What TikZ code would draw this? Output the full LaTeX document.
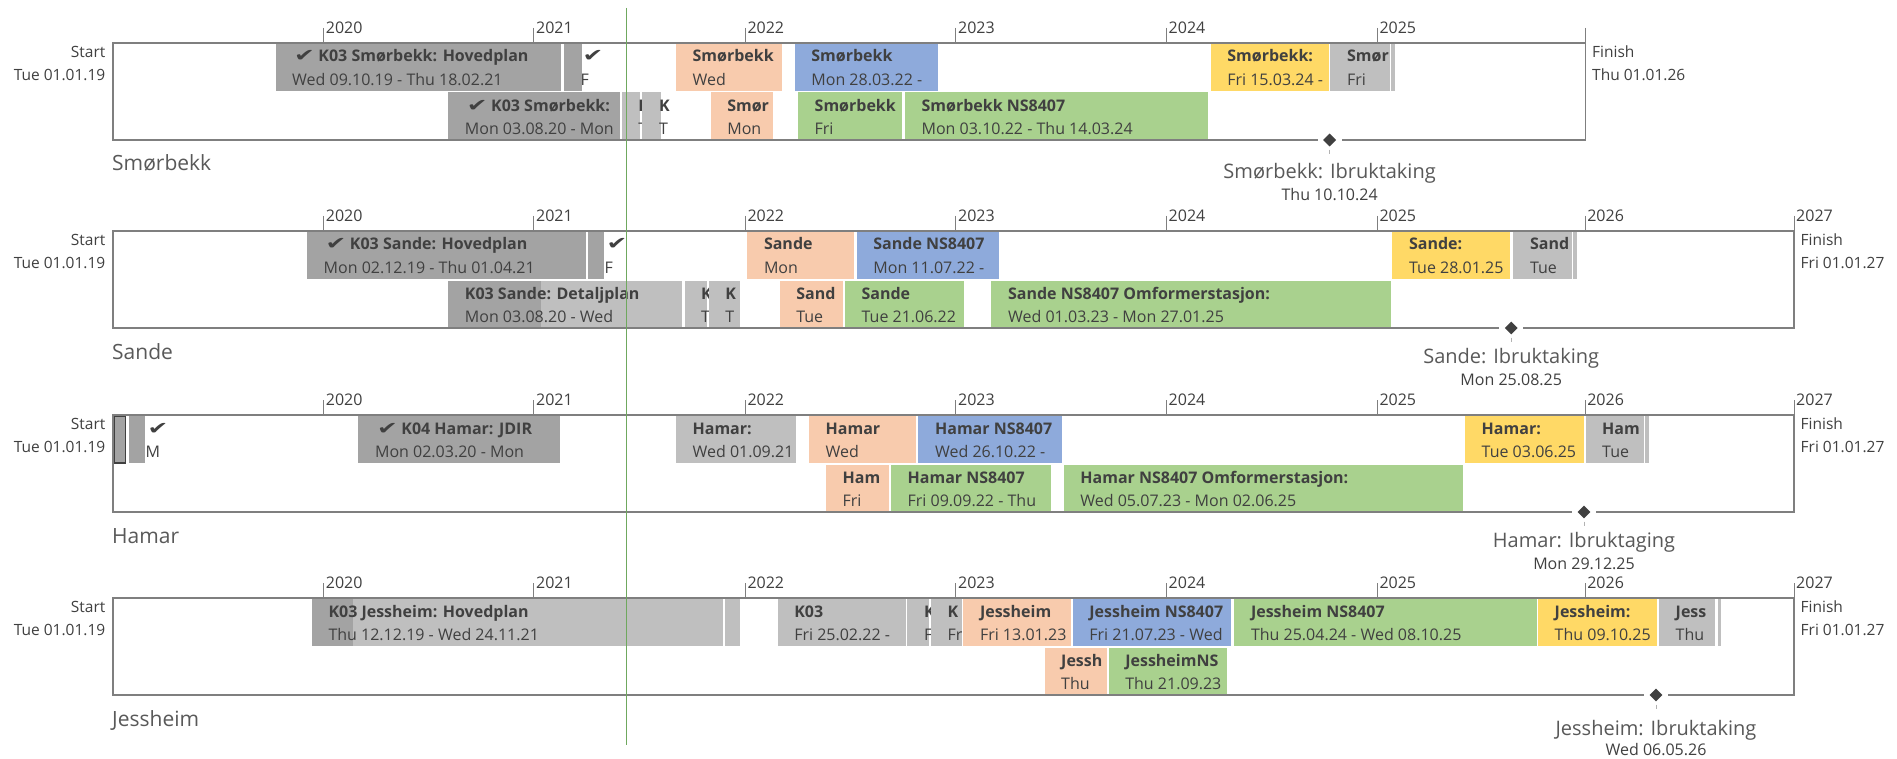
\documentclass[tikz,border=0pt]{standalone}
\usepackage{fontspec}
\setmainfont{Open Sans}
\newfontfamily\chkfont{DejaVu Sans}
\usetikzlibrary{shapes.geometric}
\definecolor{cdark}{HTML}{A3A3A3}
\definecolor{clight}{HTML}{BFBFBF}
\definecolor{cpeach}{HTML}{F8CBAD}
\definecolor{cblue}{HTML}{8EAADB}
\definecolor{cgreen}{HTML}{A9D18E}
\definecolor{cyellow}{HTML}{FFD966}
\definecolor{txt}{HTML}{404040}
\definecolor{lab}{HTML}{595959}
\definecolor{frm}{HTML}{7F7F7F}
\definecolor{msc}{HTML}{404040}
\definecolor{todayc}{HTML}{6FA85E}
\tikzset{
 titlet/.style={anchor=base west, inner sep=0, font=\fontsize{16}{19}\selectfont\bfseries, text=txt},
 datet/.style={anchor=base west, inner sep=0, font=\fontsize{16}{19}\selectfont, text=txt},
 frameline/.style={draw=frm, line width=1.5},
 tickline/.style={draw=frm, line width=1},
 yearlab/.style={anchor=base west, inner sep=0, font=\fontsize{16}{19}\selectfont, text=txt},
 sflab/.style={inner sep=0, font=\fontsize{15.5}{18}\selectfont, text=txt},
 mslab/.style={anchor=base, inner sep=0, font=\fontsize{20}{24}\selectfont, text=lab},
 msdate/.style={anchor=base, inner sep=0, font=\fontsize{16}{19}\selectfont, text=txt},
 rowlab/.style={anchor=base west, inner sep=0, font=\fontsize{21}{25}\selectfont, text=lab},
 msmark/.style={diamond, fill=msc, inner sep=0, minimum width=13, minimum height=13},
 leader/.style={draw=frm!60, line width=1},
 todayline/.style={draw=todayc, line width=1.3},
}
\newcommand{\ck}{\hspace{2pt}\scalebox{1.55}[1.1]{\chkfont\bfseries ✔}\hspace{3.5pt}}
% name, y top, x1, x2, fill, title, date
\newcommand{\mytask}[7]{%
  \fill[#5] (#3,#2) rectangle (#4,{#2+48});
  \node[titlet] (#1t) at ({#3+16.5},{#2+19}) {#6};
  \node[datet] (#1d) at ({#3+16.5},{#2+42.3}) {#7};
}
\newcommand{\mystrip}[4]{\fill[#4] (#2,#1) rectangle (#3,{#1+48});}
% name, x, T, label
\newcommand{\yeartick}[4]{%
  \draw[tickline] (#2,{#3-15}) -- (#2,#3);
  \node[yearlab] (#1) at ({#2+2},{#3-9.5}) {#4};
}
% name, T, B, right x, start date, finish date, row label
\newcommand{\myframe}[7]{%
  \draw[frameline] (113,#2) rectangle (#4,#3);
  \draw[tickline] (#4,{#2-15}) -- (#4,#2);
  \node[sflab, anchor=base east] (#1sa) at (105.5,{#2+14.5}) {Start};
  \node[sflab, anchor=base east] (#1sb) at (105.5,{#2+37.5}) {#5};
  \node[sflab, anchor=base west] (#1fa) at ({#4+6.5},{#2+14.5}) {Finish};
  \node[sflab, anchor=base west] (#1fb) at ({#4+6.5},{#2+37.5}) {#6};
  \node[rowlab] (#1rl) at (112,{#3+31}) {#7};
}
% name, x, B, label, date, label baseline offset, date baseline offset
\newcommand{\mymile}[7]{%
  \fill[white] ({#2-12},{#3-3}) rectangle ({#2+12},{#3+3});
  \node[msmark] (#1m) at (#2,#3) {};
  \draw[leader] ([yshift=-3pt]#1m.south) -- ([yshift=-7pt]#1m.south);
  \node[mslab] (#1l) at (#2,{#3+#6}) {#4};
  \node[msdate] (#1d) at (#2,{#3+#7}) {#5};
}
\begin{document}
\begin{tikzpicture}[x=1pt,y=-1pt]
\useasboundingbox (0,0) rectangle (1897,759);
\fill[white] (0,0) rectangle (1897,759);

% ================= Row 1: Smørbekk (T=43, B=140)
\mytask{a1}{43}{275.5}{561.2}{cdark}{\ck K03 Smørbekk: Hovedplan}{Wed 09.10.19 - Thu 18.02.21}
\mytask{a2}{43}{564}{581.6}{cdark}{\ck}{F}
\mytask{a3}{43}{675.9}{782.4}{cpeach}{Smørbekk}{Wed}
\mytask{a4}{43}{794.7}{938}{cblue}{Smørbekk}{Mon 28.03.22 -}
\mytask{a5}{43}{1210.6}{1328.8}{cyellow}{Smørbekk:}{Fri 15.03.24 -}
\mytask{a6}{43}{1330.4}{1389.6}{clight}{Smør}{Fri}
\mystrip{43}{1391}{1395.3}{clight}
\mytask{a7}{92.5}{448.2}{619.6}{cdark}{\ck K03 Smørbekk:}{Mon 03.08.20 - Mon}
\mytask{a8}{92.5}{621.6}{640.4}{clight}{K}{T}
\mytask{a9}{92.5}{642.4}{660.8}{clight}{K}{T}
\mytask{a10}{92.5}{710.6}{772.7}{cpeach}{Smør}{Mon}
\mytask{a11}{92.5}{798}{901.6}{cgreen}{Smørbekk}{Fri}
\mytask{a12}{92.5}{904.9}{1207.8}{cgreen}{Smørbekk NS8407}{Mon 03.10.22 - Thu 14.03.24}
\myframe{r1}{43}{140}{1585.5}{Tue 01.01.19}{Thu 01.01.26}{Smørbekk}
\yeartick{y1a}{323.7}{43}{2020}
\yeartick{y1b}{533.9}{43}{2021}
\yeartick{y1c}{745.3}{43}{2022}
\yeartick{y1d}{955.9}{43}{2023}
\yeartick{y1e}{1166.5}{43}{2024}
\yeartick{y1f}{1377.3}{43}{2025}
\mymile{m1}{1329.6}{140}{Smørbekk: Ibruktaking}{Thu 10.10.24}{38.6}{60.2}

% ================= Row 2: Sande (T=231, B=328)
\mytask{b1}{231}{307}{585.7}{cdark}{\ck K03 Sande: Hovedplan}{Mon 02.12.19 - Thu 01.04.21}
\mytask{b2}{231}{587.8}{604}{cdark}{\ck}{F}
\mytask{b3}{231}{747.3}{853.5}{cpeach}{Sande}{Mon}
\mytask{b4}{231}{856.7}{998.8}{cblue}{Sande NS8407}{Mon 11.07.22 -}
\mytask{b5}{231}{1392.4}{1510.4}{cyellow}{Sande:}{Tue 28.01.25}
\mytask{b6}{231}{1513.3}{1571.6}{clight}{Sand}{Tue}
\mystrip{231}{1573.3}{1576.5}{clight}
\fill[clight] (448.2,280.5) rectangle (682.4,328.5);
\fill[cdark] (448.2,280.5) rectangle (540.8,328.5);
\node[titlet] (b7t) at (464.7,299.5) {K03 Sande: Detaljplan};
\node[datet] (b7d) at (464.7,322.8) {Mon 03.08.20 - Wed};
\mytask{b8}{280.5}{684.5}{707}{clight}{K}{T}
\mytask{b9}{280.5}{708.6}{739.6}{clight}{K}{T}
\mytask{b10}{280.5}{779.6}{842.9}{cpeach}{Sand}{Tue}
\mytask{b11}{280.5}{844.9}{964}{cgreen}{Sande}{Tue 21.06.22}
\mytask{b12}{280.5}{991.4}{1391.2}{cgreen}{Sande NS8407 Omformerstasjon:}{Wed 01.03.23 - Mon 27.01.25}
\myframe{r2}{231}{328}{1794}{Tue 01.01.19}{Fri 01.01.27}{Sande}
\yeartick{y2a}{323.7}{231}{2020}
\yeartick{y2b}{533.9}{231}{2021}
\yeartick{y2c}{745.3}{231}{2022}
\yeartick{y2d}{955.9}{231}{2023}
\yeartick{y2e}{1166.5}{231}{2024}
\yeartick{y2f}{1377.3}{231}{2025}
\yeartick{y2g}{1585.1}{231}{2026}
\node[yearlab] (y2h) at (1796,221.5) {2027};
\mymile{m2}{1511.2}{328}{Sande: Ibruktaking}{Mon 25.08.25}{35}{57.7}

% ================= Row 3: Hamar (T=415, B=512)
\fill[cdark] (113.5,416) rectangle (125.7,463);
\draw[draw=txt, line width=1.6] (113.9,416.3) rectangle (125.3,462.7);
\mytask{c2}{415}{129}{145.3}{cdark}{\ck}{M}
\mytask{c3}{415}{358.4}{560}{cdark}{\ck K04 Hamar: JDIR}{Mon 02.03.20 - Mon}
\mytask{c4}{415}{675.9}{795.5}{clight}{Hamar:}{Wed 01.09.21}
\mytask{c5}{415}{809}{916.3}{cpeach}{Hamar}{Wed}
\mytask{c6}{415}{918.4}{1062}{cblue}{Hamar NS8407}{Wed 26.10.22 -}
\mytask{c7}{415}{1465}{1583.9}{cyellow}{Hamar:}{Tue 03.06.25}
\mytask{c8}{415}{1585.5}{1643.9}{clight}{Ham}{Tue}
\mystrip{415}{1645}{1648.8}{clight}
\mytask{c9}{464.5}{826}{889.4}{cpeach}{Ham}{Fri}
\mytask{c10}{464.5}{891}{1050.6}{cgreen}{Hamar NS8407}{Fri 09.09.22 - Thu}
\mytask{c11}{464.5}{1063.7}{1463}{cgreen}{Hamar NS8407 Omformerstasjon:}{Wed 05.07.23 - Mon 02.06.25}
\myframe{r3}{415}{512}{1794}{Tue 01.01.19}{Fri 01.01.27}{Hamar}
\yeartick{y3a}{323.7}{415}{2020}
\yeartick{y3b}{533.9}{415}{2021}
\yeartick{y3c}{745.3}{415}{2022}
\yeartick{y3d}{955.9}{415}{2023}
\yeartick{y3e}{1166.5}{415}{2024}
\yeartick{y3f}{1377.3}{415}{2025}
\yeartick{y3g}{1585.1}{415}{2026}
\node[yearlab] (y3h) at (1796,405.5) {2027};
\mymile{m3}{1584}{512}{Hamar: Ibruktaging}{Mon 29.12.25}{35.6}{57.2}

% ================= Row 4: Jessheim (T=598, B=695)
\fill[clight] (311.8,598) rectangle (723.3,646);
\fill[cdark] (311.8,598) rectangle (353,646);
\node[titlet] (d1t) at (328.3,617) {K03 Jessheim: Hovedplan};
\node[datet] (d1d) at (328.3,640.3) {Thu 12.12.19 - Wed 24.11.21};
\mystrip{598}{725.3}{740.4}{clight}
\mytask{d3}{598}{777.6}{905.7}{clight}{K03}{Fri 25.02.22 -}
\mytask{d4}{598}{907.3}{929.4}{clight}{K}{F}
\mytask{d5}{598}{931}{962}{clight}{K}{Fr}
\mytask{d6}{598}{963.3}{1071}{cpeach}{Jessheim}{Fri 13.01.23}
\mytask{d7}{598}{1072.7}{1231.4}{cblue}{Jessheim NS8407}{Fri 21.07.23 - Wed}
\mytask{d8}{598}{1234.3}{1537}{cgreen}{Jessheim NS8407}{Thu 25.04.24 - Wed 08.10.25}
\mytask{d9}{598}{1538}{1656.5}{cyellow}{Jessheim:}{Thu 09.10.25}
\mytask{d10}{598}{1659}{1715.3}{clight}{Jess}{Thu}
\mystrip{598}{1717.8}{1721.4}{clight}
\mytask{d11}{647.5}{1044.5}{1107}{cpeach}{Jessh}{Thu}
\mytask{d12}{647.5}{1108.6}{1227.3}{cgreen}{JessheimNS}{Thu 21.09.23}
\myframe{r4}{598}{695}{1794}{Tue 01.01.19}{Fri 01.01.27}{Jessheim}
\yeartick{y4a}{323.7}{598}{2020}
\yeartick{y4b}{533.9}{598}{2021}
\yeartick{y4c}{745.3}{598}{2022}
\yeartick{y4d}{955.9}{598}{2023}
\yeartick{y4e}{1166.5}{598}{2024}
\yeartick{y4f}{1377.3}{598}{2025}
\yeartick{y4g}{1585.1}{598}{2026}
\node[yearlab] (y4h) at (1796,588.5) {2027};
\mymile{m4}{1656}{695}{Jessheim: Ibruktaking}{Wed 06.05.26}{40.6}{60.5}

% today line
\coordinate (tdtop) at (626.7,8);
\coordinate (tdbot) at (626.7,745);
\draw[todayline] (tdtop) -- (tdbot);
\end{tikzpicture}
\end{document}
